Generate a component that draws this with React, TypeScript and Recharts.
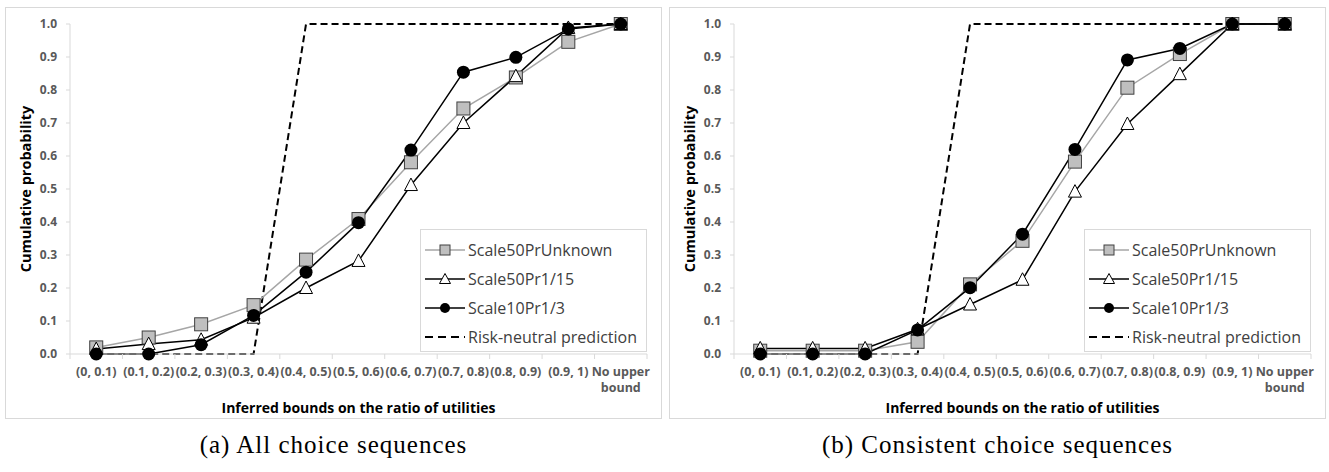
import { LineChart, Line, XAxis, YAxis, Legend, Label } from "recharts";

const categories = [
  "(0, 0.1)",
  "(0.1, 0.2)",
  "(0.2, 0.3)",
  "(0.3, 0.4)",
  "(0.4, 0.5)",
  "(0.5, 0.6)",
  "(0.6, 0.7)",
  "(0.7, 0.8)",
  "(0.8, 0.9)",
  "(0.9, 1)",
  "No upper bound",
];

const yTicks = [0, 0.1, 0.2, 0.3, 0.4, 0.5, 0.6, 0.7, 0.8, 0.9, 1.0];

// (a) all choice sequences
const allUnknown = [0.02, 0.05, 0.09, 0.148, 0.286, 0.409, 0.581, 0.744, 0.838, 0.946, 1.0];
const allPr115 = [0.015, 0.03, 0.043, 0.11, 0.2, 0.282, 0.512, 0.7, 0.842, 0.988, 1.0];
const allPr13 = [0, 0, 0.028, 0.117, 0.248, 0.398, 0.618, 0.854, 0.899, 0.985, 1.0];

// (b) consistent choice sequences
const consUnknown = [0.01, 0.01, 0.01, 0.037, 0.211, 0.343, 0.583, 0.807, 0.909, 1.0, 1.0];
const consPr115 = [0.017, 0.017, 0.017, 0.075, 0.15, 0.225, 0.492, 0.697, 0.848, 1.0, 1.0];
const consPr13 = [0, 0, 0, 0.073, 0.201, 0.363, 0.62, 0.891, 0.926, 1.0, 1.0];

const riskNeutral = [0, 0, 0, 0, 1, 1, 1, 1, 1, 1, 1];

const CHART_W = 655;
const CHART_H = 410;
const MARGIN = { top: 16, right: 14, bottom: 4, left: 14 };
const Y_W = 50;
const PLOT_W = CHART_W - MARGIN.left - MARGIN.right - Y_W;
const HALF = PLOT_W / categories.length / 2;

const AXIS_GRAY = "#d9d9d9";
const TEXT_GRAY = "#595959";

function buildRows(unknown: number[], p115: number[], p13: number[]) {
  return categories.map((c, i) => ({
    cat: c,
    unknown: unknown[i],
    p115: p115[i],
    p13: p13[i],
    rn: riskNeutral[i],
  }));
}

const SquareDot = (p: any) => {
  if (p.cx == null || p.cy == null) return <g key={p.key} />;
  return (
    <rect
      key={`sq-${p.index}`}
      x={p.cx - 6.5}
      y={p.cy - 6.5}
      width={13}
      height={13}
      fill="#bfbfbf"
      stroke="#404040"
      strokeWidth={1}
    />
  );
};

const TriangleDot = (p: any) => {
  if (p.cx == null || p.cy == null) return <g key={p.key} />;
  const { cx, cy } = p;
  return (
    <path
      key={`tr-${p.index}`}
      d={`M${cx},${cy - 7} L${cx + 6.5},${cy + 5.5} L${cx - 6.5},${cy + 5.5} Z`}
      fill="#fff"
      stroke="#000"
      strokeWidth={1}
    />
  );
};

const CircleDot = (p: any) => {
  if (p.cx == null || p.cy == null) return <g key={p.key} />;
  return <circle key={`ci-${p.index}`} cx={p.cx} cy={p.cy} r={6.5} fill="#000" />;
};

const XTick = (props: any) => {
  const { x, y, payload } = props;
  const value = String(payload.value);
  const words = value.split(" ");
  const lines = value.length > 11 ? [words.slice(0, -1).join(" "), words[words.length - 1]] : [value];
  return (
    <g>
      <line x1={x + HALF} x2={x + HALF} y1={y} y2={y + 5} stroke={AXIS_GRAY} />
      {payload.index === 0 && <line x1={x - HALF} x2={x - HALF} y1={y} y2={y + 5} stroke={AXIS_GRAY} />}
      <text x={x} y={y + 22} textAnchor="middle" fill={TEXT_GRAY} fontSize={12.5} fontWeight={700}>
        {lines.map((l, i) => (
          <tspan key={i} x={x} dy={i === 0 ? 0 : 16}>
            {l}
          </tspan>
        ))}
      </text>
    </g>
  );
};

const legendItems = [
  { name: "Scale50PrUnknown", kind: "square" },
  { name: "Scale50Pr1/15", kind: "triangle" },
  { name: "Scale10Pr1/3", kind: "circle" },
  { name: "Risk-neutral prediction", kind: "dash" },
];

const LegendIcon = ({ kind }: { kind: string }) => (
  <svg width={40} height={16} style={{ display: "block" }}>
    {kind === "dash" ? (
      <line x1={0} x2={40} y1={8} y2={8} stroke="#000" strokeWidth={2} strokeDasharray="8 5" />
    ) : (
      <line x1={0} x2={40} y1={8} y2={8} stroke={kind === "square" ? "#a6a6a6" : "#000"} strokeWidth={1.5} />
    )}
    {kind === "square" && <rect x={15} y={3} width={10} height={10} fill="#bfbfbf" stroke="#404040" />}
    {kind === "triangle" && <path d="M20,2.5 L25.5,12.5 L14.5,12.5 Z" fill="#fff" stroke="#000" />}
    {kind === "circle" && <circle cx={20} cy={8} r={5} fill="#000" />}
  </svg>
);

const LegendBox = () => (
  <div
    style={{
      border: `1px solid ${AXIS_GRAY}`,
      background: "#fff",
      width: 227,
      boxSizing: "border-box",
      paddingTop: 5,
    }}
  >
    {legendItems.map((item) => (
      <div key={item.name} style={{ display: "flex", alignItems: "center", height: 29 }}>
        <div style={{ marginLeft: 4 }}>
          <LegendIcon kind={item.kind} />
        </div>
        <span
          style={{
            marginLeft: 3,
            fontSize: 16,
            color: "#404040",
            fontFamily: "Open Sans",
            whiteSpace: "nowrap",
          }}
        >
          {item.name}
        </span>
      </div>
    ))}
  </div>
);

const YTitle = (props: any) => {
  const vb = props.viewBox;
  const cx = vb.x + 5;
  const cy = vb.y + vb.height / 2;
  return (
    <text
      x={cx}
      y={cy}
      transform={`rotate(-90 ${cx} ${cy})`}
      textAnchor="middle"
      dominantBaseline="central"
      fontSize={14.5}
      fontWeight={700}
      fill="#000"
    >
      Cumulative probability
    </text>
  );
};

const XTitle = (props: any) => {
  const vb = props.viewBox;
  return (
    <text x={vb.x + vb.width / 2} y={vb.y + 59} textAnchor="middle" fontSize={14} fontWeight={700} fill="#000">
      Inferred bounds on the ratio of utilities
    </text>
  );
};

function Panel({ left, rows }: { left: number; rows: any[] }) {
  return (
    <div
      style={{
        position: "absolute",
        left,
        top: 7,
        width: 657,
        height: 412,
        border: `1px solid ${AXIS_GRAY}`,
        boxSizing: "border-box",
        background: "#fff",
      }}
    >
      <LineChart width={CHART_W} height={CHART_H} data={rows} margin={MARGIN} style={{ fontFamily: "Open Sans" }}>
        <XAxis
          dataKey="cat"
          height={60}
          padding={{ left: HALF, right: HALF }}
          interval={0}
          tickLine={false}
          tickSize={0}
          tickMargin={0}
          axisLine={{ stroke: AXIS_GRAY }}
          tick={<XTick />}
        >
          <Label content={<XTitle />} />
        </XAxis>
        <YAxis
          width={Y_W}
          domain={[0, 1]}
          ticks={yTicks}
          interval={0}
          tickSize={4}
          tickMargin={9}
          tickLine={{ stroke: AXIS_GRAY }}
          axisLine={{ stroke: AXIS_GRAY }}
          tick={{ fill: TEXT_GRAY, fontSize: 12, fontWeight: 700 }}
          tickFormatter={(v: number) => v.toFixed(1)}
        >
          <Label content={<YTitle />} />
        </YAxis>
        <Legend
          layout="vertical"
          align="center"
          verticalAlign="middle"
          content={<LegendBox />}
          wrapperStyle={{ left: 414, top: 221, width: 227 }}
        />
        <Line
          dataKey="rn"
          name="Risk-neutral prediction"
          stroke="#000"
          strokeWidth={2}
          strokeDasharray="7 4"
          dot={false}
          activeDot={false}
          isAnimationActive={false}
        />
        <Line
          dataKey="unknown"
          name="Scale50PrUnknown"
          stroke="#a6a6a6"
          strokeWidth={1.5}
          dot={SquareDot}
          activeDot={false}
          isAnimationActive={false}
        />
        <Line
          dataKey="p115"
          name="Scale50Pr1/15"
          stroke="#000"
          strokeWidth={1.5}
          dot={TriangleDot}
          activeDot={false}
          isAnimationActive={false}
        />
        <Line
          dataKey="p13"
          name="Scale10Pr1/3"
          stroke="#000"
          strokeWidth={1.5}
          dot={CircleDot}
          activeDot={false}
          isAnimationActive={false}
        />
      </LineChart>
    </div>
  );
}

const captionStyle: any = {
  position: "absolute",
  top: 429,
  width: 657,
  height: 32,
  lineHeight: "32px",
  textAlign: "center",
  fontFamily: "'Liberation Serif', serif",
  fontSize: 25,
  letterSpacing: 1,
  color: "#000",
};

export default function App() {
  return (
    <div style={{ position: "absolute", left: 0, top: 0, width: 1329, height: 472, background: "#fff" }}>
      <Panel left={5} rows={buildRows(allUnknown, allPr115, allPr13)} />
      <Panel left={669} rows={buildRows(consUnknown, consPr115, consPr13)} />
      <div style={{ ...captionStyle, left: 5 }}>(a) All choice sequences</div>
      <div style={{ ...captionStyle, left: 669 }}>(b) Consistent choice sequences</div>
    </div>
  );
}
